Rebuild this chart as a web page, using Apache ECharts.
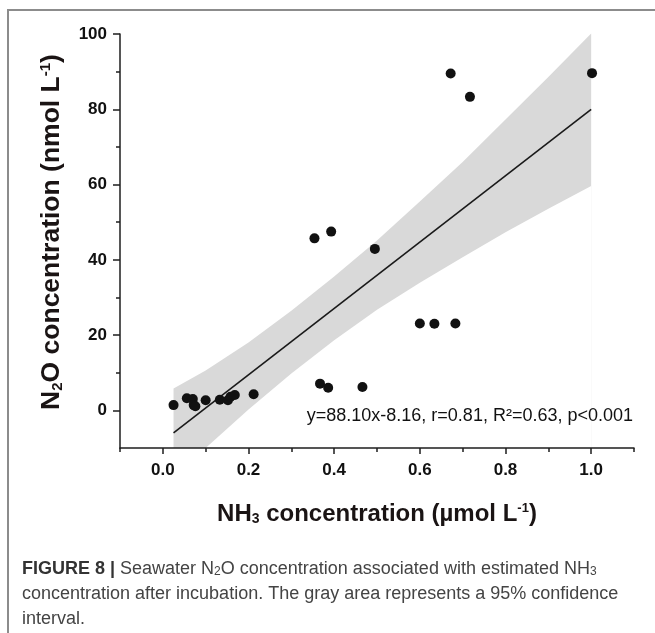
<!DOCTYPE html>
<html>
<head>
<meta charset="utf-8">
<script src="https://cdn.jsdelivr.net/npm/echarts@6/dist/echarts.min.js"></script>
<style>
  html, body { margin: 0; padding: 0; background: #fff; }
  #chart { width: 655px; height: 633px; }
</style>
</head>
<body>
<div id="chart"></div>
<script>
// NH3 (x) vs N2O (y) measurements
const nh3 = [0.025, 0.056, 0.070, 0.072, 0.076, 0.100, 0.133, 0.152, 0.158, 0.168, 0.212,
  0.354, 0.393, 0.495, 0.367, 0.386, 0.466, 0.600, 0.634, 0.683, 0.672, 0.717, 1.002]
const n2o = [1.4, 3.2, 3.0, 1.4, 1.1, 2.7, 2.8, 2.7, 3.6, 4.1, 4.3,
  45.7, 47.5, 42.9, 7.1, 6.0, 6.2, 23.1, 23.0, 23.1, 89.5, 83.3, 89.6]

// fitted line end points
const fitX = [0.025, 1.0]
const fitY = [-6.0, 80.0]

// 95% confidence band, read at these x positions
const bandX = [0.025, 0.1, 0.2, 0.3, 0.4, 0.5, 0.6, 0.7, 0.8, 0.9, 1.0]
const bandUpper = [5.8, 10.6, 18.0, 26.5, 35.6, 45.1, 55.5, 66.0, 77.3, 88.6, 100.1]
const bandLower = [-17.8, -10.0, 0.2, 9.8, 18.6, 26.7, 33.9, 40.7, 47.3, 53.6, 59.6]

// ticks
const xMajor = [0, 0.2, 0.4, 0.6, 0.8, 1.0]
const xMinor = [-0.1, 0.1, 0.3, 0.5, 0.7, 0.9, 1.1]
const yMajor = [0, 20, 40, 60, 80, 100]
const yMinor = [10, 30, 50, 70, 90]

const FONT = '"Liberation Sans", Arial, sans-serif'
const AXIS_COLOR = '#1e1e1e'

const chart = echarts.init(document.getElementById('chart'), null, { renderer: 'canvas' })

const points = nh3.map((x, i) => [x, n2o[i]])
const fitData = fitX.map((x, i) => [x, fitY[i]])
const upperData = bandX.map((x, i) => [x, bandUpper[i]])
const lowerData = bandX.map((x, i) => [x, bandLower[i]])

const majorAxis = (extra) => Object.assign({
  type: 'value',
  z: 5,
  axisLine: { show: true, onZero: false, lineStyle: { color: AXIS_COLOR, width: 1.5 } },
  splitLine: { show: false },
}, extra)

const minorAxis = (extra) => Object.assign({
  type: 'value',
  z: 5,
  axisLine: { show: false, onZero: false },
  axisLabel: { show: false },
  splitLine: { show: false },
}, extra)

const labelStyle = { color: '#111', fontFamily: FONT, fontWeight: 'bold', fontSize: 17 }

const titleRich = (size) => ({
  b: { fontFamily: FONT, fontWeight: 'bold', fontSize: size, fill: '#1a1414' },
  sub: { fontFamily: FONT, fontWeight: 'bold', fontSize: Math.round(size * 0.58), fill: '#1a1414', verticalAlign: 'bottom' },
  sup: { fontFamily: FONT, fontWeight: 'bold', fontSize: Math.round(size * 0.55), fill: '#1a1414', verticalAlign: 'top' }
})

const capRich = {
  fb: { fontFamily: FONT, fontWeight: 'bold', fontSize: 18, fill: '#333' },
  r: { fontFamily: FONT, fontSize: 18, fill: '#444' },
  sb: { fontFamily: FONT, fontSize: 12, fill: '#444', verticalAlign: 'bottom' }
}

chart.setOption({
  animation: false,
  backgroundColor: '#fff',
  grid: { left: 120, top: 34, width: 514, height: 414 },
  xAxis: [
    majorAxis({
      min: -0.1, max: 1.1, interval: 0.1,
      position: 'bottom',
      axisTick: { customValues: xMajor, length: 6, lineStyle: { color: AXIS_COLOR, width: 1.5 } },
      axisLabel: Object.assign({ customValues: xMajor, margin: 14, formatter: v => v.toFixed(1) }, labelStyle)
    }),
    minorAxis({
      min: -0.1, max: 1.1, interval: 0.1,
      position: 'bottom',
      axisTick: { customValues: xMinor, length: 4, lineStyle: { color: AXIS_COLOR, width: 1.5 } }
    })
  ],
  yAxis: [
    majorAxis({
      min: -10, max: 100, interval: 10,
      position: 'left',
      axisTick: { customValues: yMajor, length: 7, lineStyle: { color: AXIS_COLOR, width: 1.5 } },
      axisLabel: Object.assign({ customValues: yMajor, margin: 13 }, labelStyle)
    }),
    minorAxis({
      min: -10, max: 100, interval: 10,
      position: 'left',
      axisTick: { customValues: yMinor, length: 4, lineStyle: { color: AXIS_COLOR, width: 1.5 } }
    })
  ],
  series: [
    {
      // upper edge of the band, filled down to the axis
      type: 'line',
      data: upperData,
      symbol: 'none',
      lineStyle: { opacity: 0 },
      areaStyle: { color: '#d9d9d9', opacity: 1, origin: 'start' },
      silent: true,
      z: 1
    },
    {
      // lower edge of the band, white below it
      type: 'line',
      data: lowerData,
      symbol: 'none',
      lineStyle: { opacity: 0 },
      areaStyle: { color: '#ffffff', opacity: 1, origin: 'start' },
      silent: true,
      z: 1
    },
    {
      type: 'line',
      data: fitData,
      symbol: 'none',
      lineStyle: { color: '#1a1a1a', width: 1.6 },
      z: 2
    },
    {
      type: 'scatter',
      data: points,
      symbol: 'circle',
      symbolSize: 10,
      itemStyle: { color: '#111111', opacity: 1 },
      z: 3
    }
  ],
  graphic: [
    {
      type: 'rect',
      z: 100,
      shape: { x: 8, y: 10, width: 720, height: 720 },
      style: { fill: 'none', stroke: '#8c8c8c', lineWidth: 2 },
      silent: true
    },
    {
      type: 'text',
      z: 100,
      x: 52, y: 232,
      rotation: Math.PI / 2,
      style: {
        text: '{b|N}{sub|2}{b|O concentration (nmol L}{sup|-1}{b|)}',
        rich: titleRich(26.5),
        align: 'center', verticalAlign: 'middle'
      }
    },
    {
      type: 'text',
      z: 100,
      x: 377, y: 514,
      style: {
        text: '{b|NH}{sub|3}{b| concentration (\u00b5mol L}{sup|-1}{b|)}',
        rich: titleRich(24),
        align: 'center', verticalAlign: 'middle'
      }
    },
    {
      type: 'text',
      z: 100,
      x: 633, y: 416,
      style: {
        text: 'y=88.10x-8.16, r=0.81, R\u00b2=0.63, p<0.001',
        font: '18px ' + FONT,
        fill: '#111',
        align: 'right', verticalAlign: 'middle'
      }
    },
    {
      type: 'text',
      z: 100,
      x: 22, y: 569,
      style: {
        text: '{fb|FIGURE 8 | }{r|Seawater N}{sb|2}{r|O concentration associated with estimated NH}{sb|3}',
        rich: capRich,
        align: 'left', verticalAlign: 'middle'
      }
    },
    {
      type: 'text',
      z: 100,
      x: 22, y: 594,
      style: {
        text: '{r|concentration after incubation. The gray area represents a 95% confidence}',
        rich: capRich,
        align: 'left', verticalAlign: 'middle'
      }
    },
    {
      type: 'text',
      z: 100,
      x: 22, y: 619,
      style: {
        text: '{r|interval.}',
        rich: capRich,
        align: 'left', verticalAlign: 'middle'
      }
    }
  ]
})
</script>
</body>
</html>
